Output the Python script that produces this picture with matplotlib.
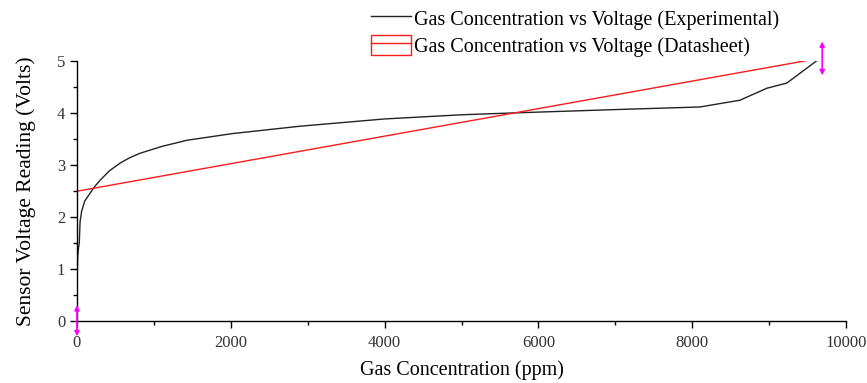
import matplotlib
matplotlib.use("Agg")
import matplotlib.pyplot as plt
from matplotlib.patches import Patch
from matplotlib.lines import Line2D
from matplotlib.legend_handler import HandlerTuple
from matplotlib.ticker import MultipleLocator

plt.rcParams['font.family'] = ['Liberation Serif', 'DejaVu Serif']

# measured sensor response
exp_ppm = [0, 0, 5, 10, 20, 30, 40, 60, 100, 170, 230, 300, 420, 560, 680, 820,
           1100, 1430, 2030, 2900, 4000, 5000, 5760, 7000, 8100, 8620, 8970,
           9230, 9620]
exp_volts = [0, 0.6, 1.0, 1.25, 1.4, 1.5, 1.9, 2.1, 2.3, 2.45, 2.58, 2.7, 2.88,
             3.03, 3.13, 3.22, 3.35, 3.47, 3.6, 3.74, 3.88, 3.96, 4.0, 4.06,
             4.11, 4.24, 4.47, 4.57, 5.0]

# datasheet straight line
ds_ppm = [0, 9480]
ds_volts = [2.49, 5.0]

# data range markers (x, y_low, y_high)
range_marks = [(0, -0.3, 0.3), (9690, 4.72, 5.37)]

fig = plt.figure(figsize=(8.67, 3.83), dpi=100)
ax = fig.add_axes([0.0888, 0.1627, 0.8870, 0.6788])

ax.plot(exp_ppm, exp_volts, color='#222222', linewidth=1.0)
ax.plot(ds_ppm, ds_volts, color='#ff1a1a', linewidth=1.0)

for mx, lo, hi in range_marks:
    ax.annotate('', xy=(mx, hi), xytext=(mx, lo), annotation_clip=False,
                arrowprops=dict(arrowstyle='<|-|>', color='#ff00ff', lw=1.2,
                                mutation_scale=7, shrinkA=0, shrinkB=0))

ax.set_xlim(0, 10000)
ax.set_ylim(0, 5)
ax.xaxis.set_major_locator(MultipleLocator(2000))
ax.xaxis.set_minor_locator(MultipleLocator(1000))
ax.yaxis.set_major_locator(MultipleLocator(1))
ax.yaxis.set_minor_locator(MultipleLocator(0.5))
ax.tick_params(which='major', direction='out', length=5, width=1,
               labelsize=12, labelcolor='#333333')
ax.tick_params(axis='x', which='major', pad=5)
ax.tick_params(which='minor', direction='out', length=3, width=1)

for side in ['top', 'right']:
    ax.spines[side].set_visible(False)
for side in ['left', 'bottom']:
    ax.spines[side].set_linewidth(1.0)

ax.set_xlabel('Gas Concentration (ppm)', fontsize=14.5, labelpad=7)
ax.set_ylabel('Sensor Voltage Reading (Volts)', fontsize=15.5, labelpad=15)

handles = [
    Line2D([], [], color='#222222', linewidth=1.0),
    (Patch(facecolor='none', edgecolor='#ff1a1a', linewidth=1.0),
     Line2D([], [], color='#ff1a1a', linewidth=1.0)),
]
labels = ['Gas Concentration vs Voltage (Experimental)',
          'Gas Concentration vs Voltage (Datasheet)']
fig.legend(handles, labels, loc='upper left', bbox_to_anchor=(0.424, 0.987),
           frameon=False, fontsize=14.5, handlelength=2.0, handleheight=1.15,
           handletextpad=0.15, labelspacing=0.25, borderaxespad=0.0,
           borderpad=0.15, handler_map={tuple: HandlerTuple(ndivide=1)})

fig.savefig('out.png', dpi=100)
